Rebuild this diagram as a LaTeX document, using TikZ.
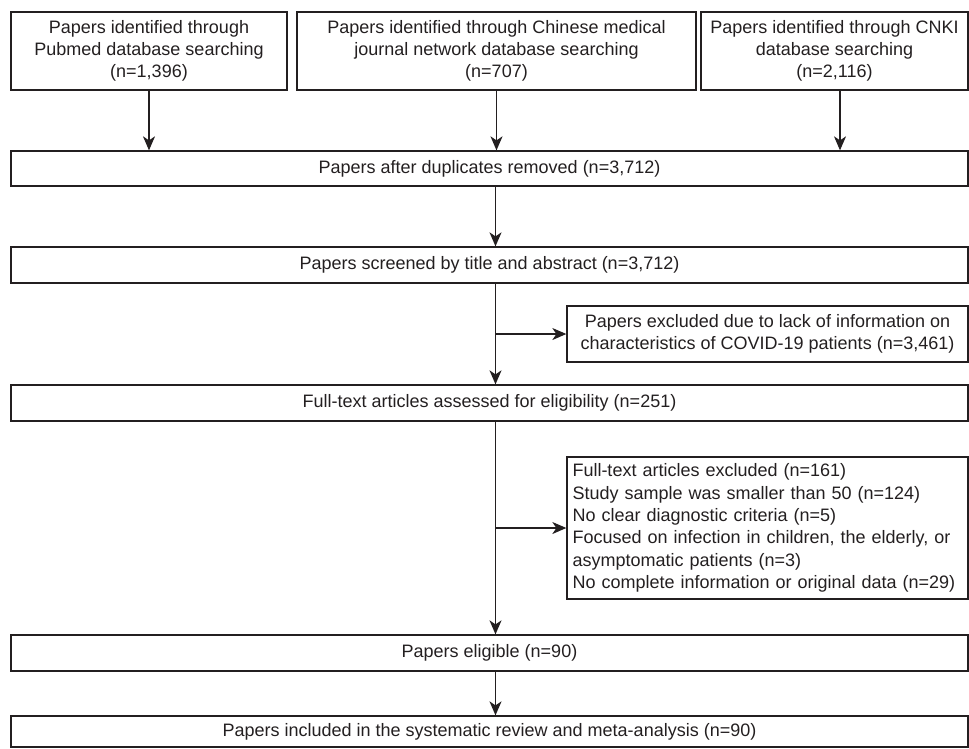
\documentclass[tikz,border=0pt]{standalone}
\usepackage{fontspec}
\setmainfont{Liberation Sans}
\usepackage{xcolor}
\usetikzlibrary{
    positioning,
    arrows.meta,
    calc
}
\definecolor{flowGray}{RGB}{35, 31, 32}

\tikzset{
    flowbox/.style={draw=flowGray, line width=1.3pt, text=flowGray, inner sep=0pt,
        align=center, font=\fontsize{18}{22.3}\selectfont},
    listbox/.style={flowbox, align=left, inner xsep=5.5pt, text width=390pt},
    flowarrow/.style={draw=flowGray, line width=1.3pt,
        -{Stealth[length=14pt, width=12pt, inset=4pt]}}
}

\begin{document}
\begin{tikzpicture}[x=1pt, y=-1pt]
    \useasboundingbox (0,0) rectangle (969,748);
    \coordinate (spine) at (495.5,0);

    % Sources
    \node[flowbox, minimum width=276pt, minimum height=78pt] (pubmed) at (149,51)
        {Papers identified through\\Pubmed database searching\\(n=1,396)};
    \node[flowbox, minimum width=399pt, minimum height=78pt] (cmj) at (496.5,51)
        {Papers identified through Chinese medical\\journal network database searching\\(n=707)};
    \node[flowbox, minimum width=267pt, minimum height=78pt] (cnki) at (834.5,51)
        {Papers identified through CNKI\\database searching\\(n=2,116)};

    % Main column
    \node[flowbox, minimum width=957pt, minimum height=35pt] (dup) at (489.5,168.5)
        {Papers after duplicates removed (n=3,712)};
    \node[flowbox, minimum width=957pt, minimum height=36pt] (screen) at (489.5,265)
        {Papers screened by title and abstract (n=3,712)};
    \node[flowbox, minimum width=957pt, minimum height=36pt] (fulltext) at (489.5,403)
        {Full-text articles assessed for eligibility (n=251)};
    \node[flowbox, minimum width=957pt, minimum height=36pt] (eligible) at (489.5,653)
        {Papers eligible (n=90)};
    \node[flowbox, minimum width=957pt, minimum height=31pt] (included) at (489.5,731.5)
        {Papers included in the systematic review and meta-analysis (n=90)};

    % Exclusions
    \node[flowbox, minimum width=401pt, minimum height=56pt] (excltitle) at (767.5,334)
        {Papers excluded due to lack of information on\\characteristics of COVID-19 patients (n=3,461)};
    \node[listbox, minimum height=142pt] (exclfull) at (767.5,528)
        {Full-text articles excluded (n=161)\\
         Study sample was smaller than 50 (n=124)\\
         No clear diagnostic criteria (n=5)\\
         Focused on infection in children, the elderly, or\\
         asymptomatic patients (n=3)\\
         No complete information or original data (n=29)};

    % Sources into duplicates
    \coordinate (cnkiout) at ([xshift=5.5pt]cnki.south);
    \draw[flowarrow] (pubmed.south) -- (pubmed.south |- dup.north);
    \draw[flowarrow] (cmj.south) -- (cmj.south |- dup.north);
    \draw[flowarrow] (cnkiout) -- (cnkiout |- dup.north);

    % Down the column
    \draw[flowarrow] (dup.south -| spine) -- (screen.north -| spine);
    \draw[flowarrow] (screen.south -| spine) -- (fulltext.north -| spine);
    \draw[flowarrow] (fulltext.south -| spine) -- (eligible.north -| spine);
    \draw[flowarrow] (eligible.south -| spine) -- (included.north -| spine);

    % Side branches
    \draw[flowarrow] (spine |- excltitle.west) -- (excltitle.west);
    \draw[flowarrow] (spine |- exclfull.west) -- (exclfull.west);
\end{tikzpicture}
\end{document}
